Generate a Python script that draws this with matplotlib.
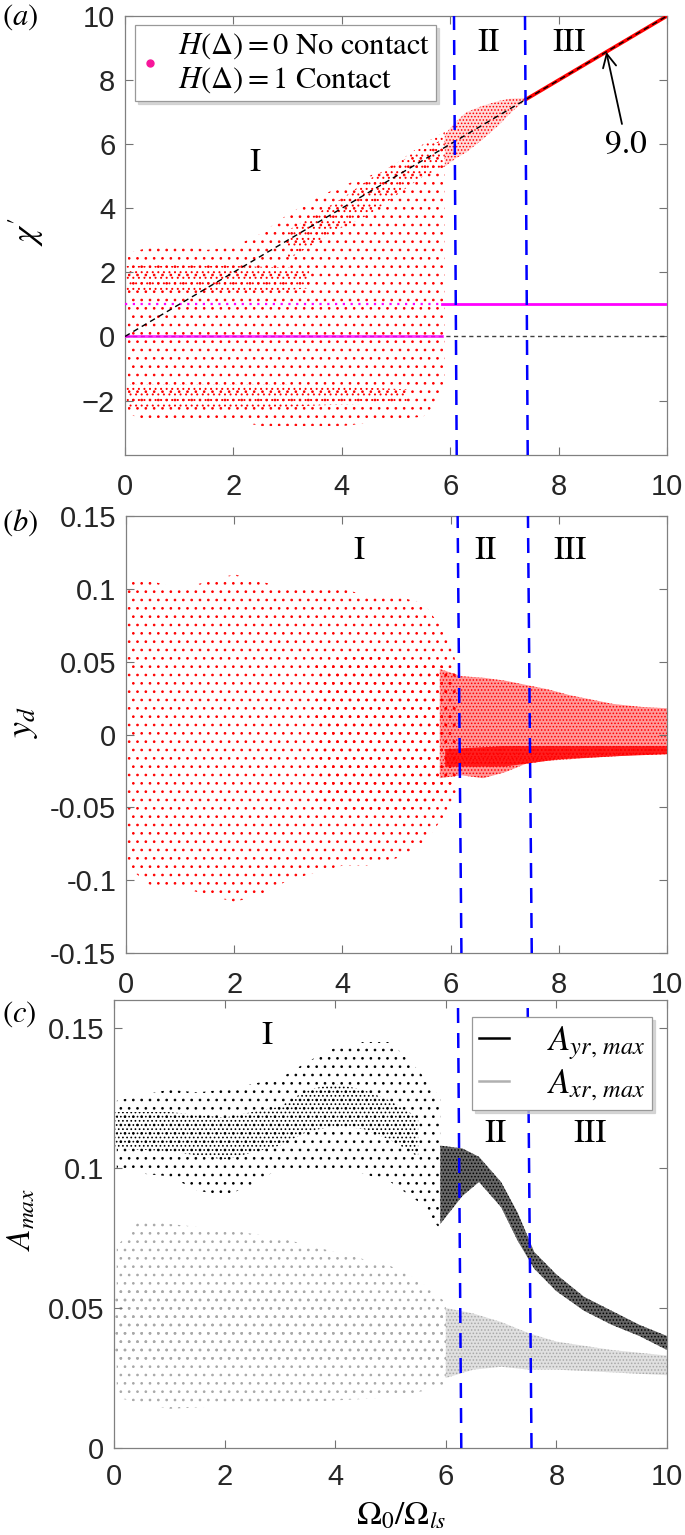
import numpy as np
import matplotlib
matplotlib.use('Agg')
import matplotlib.pyplot as plt
from matplotlib.lines import Line2D

plt.rcParams['font.family'] = ['Liberation Sans', 'DejaVu Sans']
plt.rcParams['mathtext.fontset'] = 'stix'
plt.rcParams['hatch.linewidth'] = 0.7

RED = '#ff0000'
MAGENTA = '#ff00ff'
BLUE = '#0000ff'
GRAY = '#a8a8a8'
SERIF = 'STIXGeneral'

# ---------------- panel (a): chi' cloud envelopes
a_cloud_x = [0.05, 0.5, 1.0, 1.5, 2.0, 2.5, 3.0, 3.5, 4.0, 4.5, 5.0, 5.5, 5.8, 5.9]
a_cloud_hi = [2.6, 2.8, 2.9, 2.7, 2.8, 3.2, 3.8, 4.3, 4.7, 5.0, 5.4, 5.8, 6.1, 6.2]
a_cloud_lo = [-2.4, -2.7, -2.7, -2.6, -2.6, -2.8, -2.8, -2.8, -2.8, -2.7, -2.6, -2.5, -2.0, -1.5]
a_band_up_x = [0.0, 1.0, 2.0, 3.0, 3.4]
a_band_up_hi = [2.2, 2.2, 2.2, 2.15, 2.1]
a_band_up_lo = [1.45, 1.45, 1.45, 1.45, 1.5]
a_band_dn_x = [0.0, 1.0, 2.0, 3.0, 3.6, 4.5, 5.2]
a_band_dn_hi = [-1.5, -1.5, -1.5, -1.5, -1.55, -1.6, -1.65]
a_band_dn_lo = [-2.2, -2.2, -2.2, -2.2, -2.15, -2.1, -2.05]
a_diag_x = [3.0, 3.5, 4.0, 4.5, 5.0, 5.5, 5.9]
a_diag_hi = [3.3, 3.8, 4.3, 4.9, 5.4, 6.0, 6.4]
a_diag_lo = [2.4, 2.9, 3.4, 3.8, 4.4, 5.0, 5.3]
a_wedge_x = [5.9, 6.1, 6.3, 6.6, 6.9, 7.1, 7.4]
a_wedge_hi = [6.3, 6.7, 7.0, 7.2, 7.35, 7.42, 7.45]
a_wedge_lo = [5.3, 5.55, 5.75, 6.15, 6.6, 6.95, 7.4]
a_line_x = [7.4, 10.0]
a_contact_split = 5.85
a_regions = [(6.07, 6.12), (7.38, 7.43)]

# ---------------- panel (b): y_d
b_cloud_x = [0.0, 0.5, 1.0, 1.5, 2.0, 2.5, 3.0, 3.5, 4.0, 4.5, 5.0, 5.5, 5.9, 6.1]
b_cloud_hi = [0.105, 0.105, 0.10, 0.105, 0.11, 0.105, 0.10, 0.10, 0.10, 0.095, 0.095, 0.09, 0.07, 0.05]
b_cloud_lo = [-0.09, -0.105, -0.105, -0.11, -0.115, -0.11, -0.10, -0.095, -0.09, -0.09, -0.085, -0.075, -0.055, -0.04]
b_core_x = [3.5, 4.5, 5.5, 6.1]
b_core_hi = [0.05, 0.055, 0.05, 0.045]
b_core_lo = [-0.05, -0.055, -0.05, -0.035]
b_band_x = [5.8, 6.2, 6.6, 7.0, 7.4, 7.8, 8.2, 8.6, 9.0, 9.5, 10.0]
b_band_hi = [0.045, 0.04, 0.039, 0.037, 0.034, 0.031, 0.027, 0.024, 0.021, 0.019, 0.018]
b_band_lo = [-0.03, -0.028, -0.03, -0.026, -0.02, -0.018, -0.017, -0.016, -0.015, -0.014, -0.0135]
b_low_x = [5.9, 7.0, 8.0, 9.0, 10.0]
b_low_hi = [-0.01, -0.008, -0.008, -0.008, -0.008]
b_low_lo = [-0.022, -0.022, -0.017, -0.015, -0.0135]
b_regions = [(6.13, 6.2), (7.43, 7.5)]

# ---------------- panel (c): A_max
c_y_x = [0.05, 0.5, 1.0, 1.5, 2.0, 2.5, 3.0, 3.5, 4.0, 4.5, 5.0, 5.5, 5.9]
c_y_hi = [0.124, 0.126, 0.128, 0.127, 0.128, 0.13, 0.132, 0.138, 0.143, 0.145, 0.145, 0.135, 0.125]
c_y_lo = [0.10, 0.098, 0.097, 0.092, 0.09, 0.094, 0.10, 0.10, 0.10, 0.098, 0.095, 0.088, 0.078]
c_ycore_x = [0.0, 1.0, 2.0, 3.0, 3.5, 4.0, 4.5, 5.0, 5.5]
c_ycore_hi = [0.120, 0.120, 0.118, 0.122, 0.128, 0.130, 0.128, 0.124, 0.118]
c_ycore_lo = [0.107, 0.106, 0.103, 0.108, 0.113, 0.115, 0.114, 0.110, 0.104]
c_yband_x = [5.9, 6.3, 6.6, 7.0, 7.3, 7.6, 8.0, 8.5, 9.0, 9.5, 10.0]
c_yband_hi = [0.108, 0.107, 0.104, 0.095, 0.084, 0.070, 0.062, 0.054, 0.049, 0.044, 0.040]
c_yband_lo = [0.080, 0.090, 0.095, 0.086, 0.074, 0.064, 0.056, 0.049, 0.044, 0.040, 0.035]
c_x_x = [0.05, 0.5, 1.0, 2.0, 3.0, 4.0, 5.0, 5.5, 6.0]
c_x_hi = [0.072, 0.082, 0.080, 0.078, 0.075, 0.070, 0.065, 0.060, 0.052]
c_x_lo = [0.018, 0.016, 0.014, 0.015, 0.016, 0.017, 0.018, 0.020, 0.022]
c_xcore_x = [0.0, 2.0, 4.0, 6.0]
c_xcore_hi = [0.058, 0.058, 0.055, 0.048]
c_xcore_lo = [0.030, 0.030, 0.030, 0.030]
c_xband_x = [6.0, 6.5, 7.0, 7.5, 8.0, 9.0, 10.0]
c_xband_hi = [0.050, 0.048, 0.045, 0.041, 0.038, 0.035, 0.033]
c_xband_lo = [0.025, 0.028, 0.029, 0.028, 0.028, 0.027, 0.026]
c_regions = [(6.22, 6.28), (7.48, 7.55)]

W, H = 685, 1535


def px_axes(fig, left, right, top, bottom):
    return fig.add_axes([left / W, 1 - bottom / H, (right - left) / W, (bottom - top) / H])


def shade(ax, x, lo, hi, color, hatch, face_alpha=0.0):
    if face_alpha > 0:
        ax.fill_between(x, lo, hi, facecolor=color, alpha=face_alpha, linewidth=0)
    ax.fill_between(x, lo, hi, facecolor='none', edgecolor=color, hatch=hatch, linewidth=0)


def style_axes(ax, xpad=12):
    for s in ax.spines.values():
        s.set_color('0.5')
        s.set_linewidth(0.9)
    ax.tick_params(direction='in', length=6, width=0.8, top=True, right=True,
                   color='0.45', labelcolor='#262626', labelsize=21)
    ax.tick_params(axis='x', pad=xpad)
    ax.tick_params(axis='y', pad=7)
    ax.set_xlim(0, 10)
    ax.set_xticks([0, 2, 4, 6, 8, 10])


def region_lines(ax, regions, ylim):
    for xt, xb in regions:
        ax.plot([xb, xt], ylim, color=BLUE, lw=1.8, dashes=(6, 4), zorder=6)


def region_text(ax, pos):
    for label, (x, y) in zip(['I', 'II', 'III'], pos):
        ax.text(x, y, label, family=SERIF, fontsize=24, ha='center', va='center', zorder=7)


def plot_a(fig):
    ax = px_axes(fig, 125, 667, 16, 455)
    ylim = (-3.7, 10)
    shade(ax, a_cloud_x, a_cloud_lo, a_cloud_hi, RED, '..')
    shade(ax, a_band_up_x, a_band_up_lo, a_band_up_hi, RED, '...')
    shade(ax, a_band_dn_x, a_band_dn_lo, a_band_dn_hi, RED, '...')
    shade(ax, a_diag_x, a_diag_lo, a_diag_hi, RED, '...')
    shade(ax, a_wedge_x, a_wedge_lo, a_wedge_hi, RED, '.....', 0.15)
    ax.plot(a_line_x, a_line_x, color=RED, lw=2.6, zorder=3)
    # contact indicator H(Delta)
    ax.plot([0, 10], [0, 0], color='0.25', lw=1.0, dashes=(3, 2.5), zorder=2)
    ax.plot([0, a_contact_split], [0, 0], color=MAGENTA, lw=2.0, alpha=0.8, zorder=4)
    ax.plot([0, a_contact_split], [1, 1], color=MAGENTA, lw=1.6, dashes=(1, 2.5), zorder=4)
    ax.plot([a_contact_split, 10], [1, 1], color=MAGENTA, lw=2.0, zorder=4)
    ax.plot([0, 10], [0, 10], color='k', lw=1.0, dashes=(4, 3), zorder=5)
    region_lines(ax, a_regions, ylim)
    region_text(ax, [(2.4, 5.4), (6.7, 9.15), (8.2, 9.15)])
    ax.annotate('9.0', xy=(8.88, 8.88), xytext=(9.25, 6.0), family=SERIF, fontsize=24,
                ha='center', va='center',
                arrowprops=dict(arrowstyle='->', color='k', lw=1.3, shrinkA=2, shrinkB=0))
    ax.set_ylim(*ylim)
    ax.set_yticks([-2, 0, 2, 4, 6, 8, 10])
    style_axes(ax, xpad=13)
    ax.set_ylabel(r"$\chi'$", fontsize=25)
    ax.yaxis.set_label_coords(-0.145, 0.51)
    handle = Line2D([], [], marker='o', ms=5, color='#f7169a', ls='none')
    leg = ax.legend([handle], [r'$H(\Delta)=0$ No contact' + '\n' + r'$H(\Delta)=1$ Contact'],
                    loc='upper left', bbox_to_anchor=(0.018, 0.979), borderaxespad=0,
                    prop={'family': SERIF, 'size': 22}, handlelength=0.6, handletextpad=0.6,
                    fancybox=False, edgecolor='0.6', framealpha=1, labelspacing=0.2,
                    shadow={'color': '0.8', 'alpha': 0.8}, borderpad=0.2)
    leg.get_frame().set_linewidth(0.9)
    leg.set_zorder(10)
    fig.text(2 / W, 1 - 17 / H, r'$(a)$', fontsize=22, va='center', ha='left')


def plot_b(fig):
    ax = px_axes(fig, 126, 667, 516, 953)
    ylim = (-0.15, 0.15)
    shade(ax, b_cloud_x, b_cloud_lo, b_cloud_hi, RED, '..')
    shade(ax, b_core_x, b_core_lo, b_core_hi, RED, '..')
    shade(ax, b_band_x, b_band_lo, b_band_hi, RED, '.....', 0.4)
    shade(ax, b_low_x, b_low_lo, b_low_hi, RED, '....', 0.8)
    region_lines(ax, b_regions, ylim)
    region_text(ax, [(4.3, 0.126), (6.65, 0.126), (8.2, 0.126)])
    ax.set_ylim(*ylim)
    ax.set_yticks([-0.15, -0.1, -0.05, 0, 0.05, 0.1, 0.15])
    ax.set_yticklabels(['-0.15', '-0.1', '-0.05', '0', '0.05', '0.1', '0.15'])
    style_axes(ax, xpad=13)
    ax.set_ylabel(r'$y_d$', fontsize=26)
    ax.yaxis.set_label_coords(-0.159, 0.53)
    fig.text(2 / W, 1 - 523 / H, r'$(b)$', fontsize=22, va='center', ha='left')


def plot_c(fig):
    ax = px_axes(fig, 114, 667, 1000, 1448)
    ylim = (0, 0.16)
    shade(ax, c_x_x, c_x_lo, c_x_hi, GRAY, '..')
    shade(ax, c_xcore_x, c_xcore_lo, c_xcore_hi, GRAY, '..')
    shade(ax, c_xband_x, c_xband_lo, c_xband_hi, GRAY, '.....', 0.35)
    shade(ax, c_y_x, c_y_lo, c_y_hi, 'k', '..')
    shade(ax, c_ycore_x, c_ycore_lo, c_ycore_hi, 'k', '....')
    shade(ax, c_yband_x, c_yband_lo, c_yband_hi, 'k', '.....', 0.6)
    region_lines(ax, c_regions, ylim)
    region_text(ax, [(2.77, 0.147), (6.9, 0.112), (8.6, 0.112)])
    ax.set_ylim(*ylim)
    ax.set_yticks([0, 0.05, 0.1, 0.15])
    ax.set_yticklabels(['0', '0.05', '0.1', '0.15'])
    style_axes(ax, xpad=11)
    ax.set_ylabel(r'$A_{max}$', fontsize=24)
    ax.yaxis.set_label_coords(-0.139, 0.51)
    ax.set_xlabel(r'$\Omega_0/\Omega_{ls}$', fontsize=24)
    ax.xaxis.set_label_coords(0.52, -0.118)
    handles = [Line2D([], [], color='k', lw=1.8), Line2D([], [], color='#b0b0b0', lw=1.8)]
    leg = ax.legend(handles, [r'$A_{yr,\,max}$', r'$A_{xr,\,max}$'],
                    loc='upper right', bbox_to_anchor=(0.973, 0.962), borderaxespad=0,
                    prop={'family': SERIF, 'size': 25}, handlelength=0.85, handletextpad=1.1,
                    fancybox=False, edgecolor='0.6', framealpha=1, labelspacing=0.15,
                    shadow={'color': '0.8', 'alpha': 0.8}, borderpad=0.2)
    leg.get_frame().set_linewidth(0.9)
    leg.set_zorder(10)
    fig.text(2 / W, 1 - 1014 / H, r'$(c)$', fontsize=22, va='center', ha='left')


if __name__ == '__main__':
    fig = plt.figure(figsize=(W / 100, H / 100), dpi=100)
    plot_a(fig)
    plot_b(fig)
    plot_c(fig)
    fig.savefig('out.png', dpi=100)
